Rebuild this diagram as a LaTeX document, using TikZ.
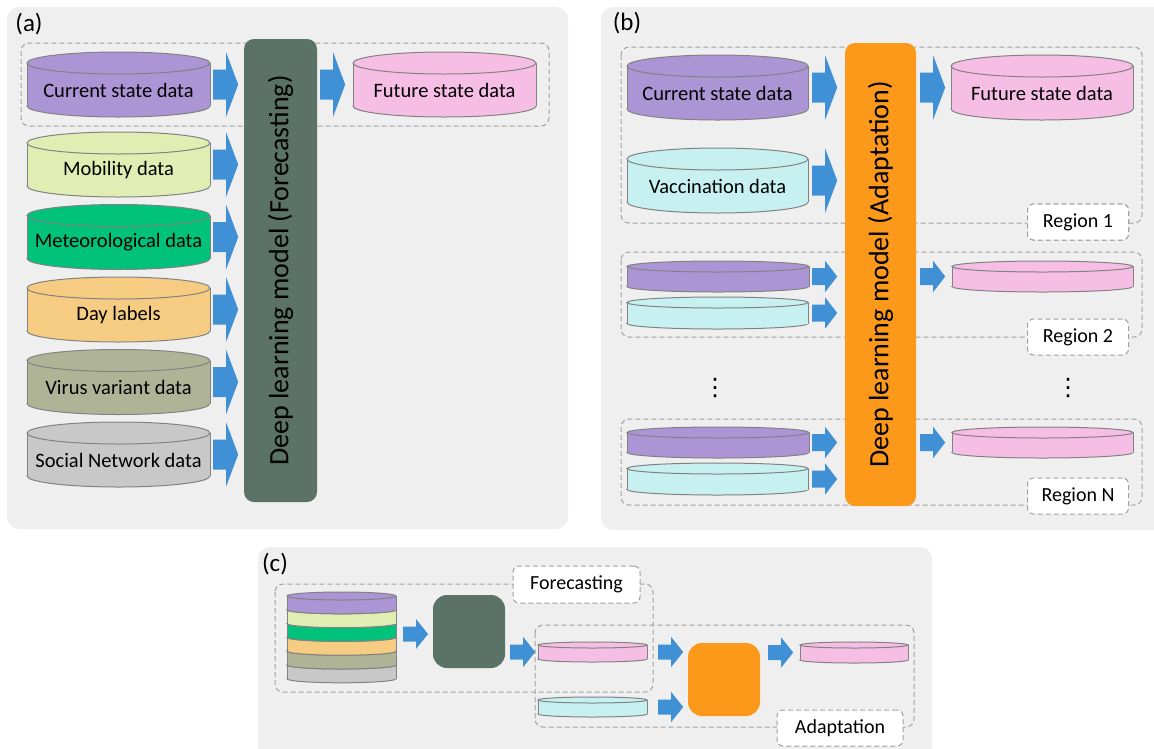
\documentclass[tikz,border=0pt]{standalone}
\usepackage{fontspec}
\setmainfont{Carlito}
\newfontfamily\dotsfont{DejaVu Sans}
\usetikzlibrary{calc}

\definecolor{panelgray}{RGB}{239,239,239}
\definecolor{dashgray}{RGB}{160,160,160}
\definecolor{cylgray}{RGB}{130,130,130}
\definecolor{arrowblue}{RGB}{64,144,214}
\definecolor{currpurple}{RGB}{171,149,213}
\definecolor{futpink}{RGB}{246,190,228}
\definecolor{mobgreen}{RGB}{224,238,180}
\definecolor{meteogreen}{RGB}{0,194,122}
\definecolor{dayorange}{RGB}{246,203,130}
\definecolor{virusolive}{RGB}{176,180,150}
\definecolor{socialgray}{RGB}{200,200,200}
\definecolor{vaccyan}{RGB}{199,241,240}
\definecolor{fcgreen}{RGB}{91,114,102}
\definecolor{adorange}{RGB}{252,153,27}

% #1 name, #2 left, #3 top, #4 width, #5 height, #6 y radius, #7 colour, #8 text
\newcommand{\datacyl}[8]{%
  \pgfmathsetmacro\cylcx{#2+#4/2}%
  \pgfmathsetmacro\cylrx{#4/2}%
  \pgfmathsetmacro\cylyt{#3+#6}%
  \pgfmathsetmacro\cylyb{#3+#5-#6}%
  \filldraw[cylline, fill=#7] (\cylcx,\cylyb) ellipse [x radius=\cylrx, y radius=#6];
  \fill[#7] (#2,\cylyt) rectangle ({#2+#4},\cylyb);
  \draw[cylline] (#2,\cylyt) -- (#2,\cylyb) ({#2+#4},\cylyt) -- ({#2+#4},\cylyb);
  \filldraw[cylline, fill=#7] (\cylcx,\cylyt) ellipse [x radius=\cylrx, y radius=#6];
  \node[inner sep=0, minimum width=#4, minimum height=#5] (#1) at (\cylcx,{#3+#5/2}) {};
  \node[cyltext] (#1-t) at ($(#1.center)+(0,#6/2)$) {#8};
}
% #1 start point, #2 half shaft, #3 half head
\newcommand{\blkarrow}[3]{%
  \fill[arrowfill, shift={#1}] (0,-#2) -- (13,-#2) -- (13,-#3) -- (25,0)
    -- (13,#3) -- (13,#2) -- (0,#2) -- cycle;
}

\begin{document}
\begin{tikzpicture}[x=1pt, y=-1pt,
  panel/.style={fill=panelgray, rounded corners=12},
  groupbox/.style={draw=dashgray, dash pattern=on 5pt off 3pt, line width=1, rounded corners=8},
  tagbox/.style={draw=dashgray, dash pattern=on 5pt off 3pt, line width=1, fill=white,
    rounded corners=6, minimum width=101, minimum height=36, font=\fontsize{20}{24}\selectfont},
  modelbox/.style={rounded corners=10, inner sep=0, font=\fontsize{28}{32}\selectfont},
  cylline/.style={draw=cylgray, line width=1},
  cyltext/.style={inner sep=0, font=\fontsize{20.5}{24}\selectfont},
  arrowfill/.style={fill=arrowblue},
  panellabel/.style={inner sep=0, font=\fontsize{25}{28}\selectfont},
  vdotsnode/.style={inner sep=0, font=\dotsfont\fontsize{24}{28}\selectfont},
]
\useasboundingbox (0,0) rectangle (1154,748);

%%%panels
\fill[panel] (7,7) rectangle (568,529);
\fill[panel] (601,7) rectangle (1170,530);
\fill[panel] (258,547) rectangle (932,760);
\node[panellabel] (la) at (29,24) {(a)};
\node[panellabel] (lb) at (627,23) {(b)};
\node[panellabel] (lc) at (275,564) {(c)};

%%%%%%%%% (a) forecasting
\draw[groupbox] (21,43) rectangle (549,126);
\datacyl{cur}{27}{52}{183}{65}{11}{currpurple}{Current state data}
\datacyl{fut}{353}{52}{183}{65}{11}{futpink}{Future state data}
\foreach \col/\txt [count=\i] in {mobgreen/Mobility data, meteogreen/Meteorological data,
    dayorange/Day labels, virusolive/Virus variant data, socialgray/Social Network data} {
  \pgfmathsetmacro\ytop{132+72.5*(\i-1)}
  \datacyl{in\i}{27}{\ytop}{183}{65}{11}{\col}{\txt}
  \blkarrow{($(in\i.east)+(3,0)$)}{15}{32}
}
\node[modelbox, fill=fcgreen, rotate=90, minimum width=463, minimum height=73]
  (fcmodel) at (280.5,270.5) {Deep learning model (Forecasting)};
\blkarrow{($(cur.east)+(3,0)$)}{15}{32}
\blkarrow{($(fcmodel.south |- fut.west)+(3,0)$)}{15}{32}

%%%%%%%%% (b) adaptation
\draw[groupbox] (621,47) rectangle (1142,223);
\draw[groupbox] (621,252) rectangle (1142,337);
\draw[groupbox] (621,419) rectangle (1142,505);
\datacyl{curb}{627}{55}{181}{65}{11}{currpurple}{Current state data}
\datacyl{vacb}{627}{148}{181}{65}{11}{vaccyan}{Vaccination data}
\datacyl{futb}{951}{55}{182}{65}{11}{futpink}{Future state data}
\foreach \r/\yt in {two/261, en/427} {
  \datacyl{cur\r}{627}{\yt}{182}{31}{5.5}{currpurple}{}
  \pgfmathsetmacro\yv{\yt+36}
  \datacyl{vac\r}{627}{\yv}{181}{32}{5.5}{vaccyan}{}
  \datacyl{fut\r}{952}{\yt}{181}{31}{5.5}{futpink}{}
  \blkarrow{($(cur\r.east)+(3,0)$)}{8.5}{15.5}
  \blkarrow{($(vac\r.east)+(4,0)$)}{8.5}{15.5}
}
\node[modelbox, fill=adorange, rotate=90, minimum width=463, minimum height=71]
  (admodel) at (880.5,274.5) {Deep learning model (Adaptation)};
\blkarrow{($(curb.east)+(4,0)$)}{15}{32}
\blkarrow{($(vacb.east)+(4,0)$)}{15}{32}
\blkarrow{($(admodel.south |- futb.west)+(4,0)$)}{15}{32}
\foreach \r in {two,en}
  \blkarrow{($(admodel.south |- fut\r.west)+(4,0)$)}{8.5}{15.5}
\node[tagbox] (reg1) at (1078,222) {Region 1};
\node[tagbox] (reg2) at (1078,337) {Region 2};
\node[tagbox] (regn) at (1078,496) {Region N};
\node[vdotsnode] (dotsl) at (715,388) {⋮};
\node[vdotsnode] (dotsr) at (1068,388) {⋮};

%%%%%%%%% (c) pipeline
\draw[groupbox] (275,584) rectangle (653,692);
\draw[groupbox] (535,625) rectangle (914,727);
\foreach \col [count=\i] in {socialgray, virusolive, dayorange, meteogreen, mobgreen, currpurple} {
  \pgfmathsetmacro\ytop{592+13.8*(6-\i)}
  \datacyl{st\i}{287}{\ytop}{109}{21.8}{4}{\col}{}
}
\coordinate (stack) at (396,634);
\node[modelbox, fill=fcgreen, rounded corners=14, minimum width=72, minimum height=73]
  (fcsmall) at (469,631.5) {};
\node[modelbox, fill=adorange, rounded corners=14, minimum width=72, minimum height=73]
  (adsmall) at (724,679.5) {};
\datacyl{futc}{538}{642}{109}{20}{3}{futpink}{}
\datacyl{vacc}{538}{697}{109}{20}{3}{vaccyan}{}
\datacyl{outc}{800}{642}{108}{21}{3}{futpink}{}
\blkarrow{($(stack)+(7,0)$)}{7.5}{15}
\blkarrow{($(fcsmall.east |- futc.west)+(5,0)$)}{7.5}{15}
\blkarrow{($(futc.east)+(11,0)$)}{7.5}{15}
\blkarrow{($(vacc.east)+(11,0)$)}{7.5}{15}
\blkarrow{($(adsmall.east |- outc.west)+(8,0)$)}{7.5}{15}
\node[tagbox, minimum width=127, minimum height=37] (fctag) at (576.5,584.5) {Forecasting};
\node[tagbox, minimum width=126] (adtag) at (840,728) {Adaptation};
\end{tikzpicture}
\end{document}
